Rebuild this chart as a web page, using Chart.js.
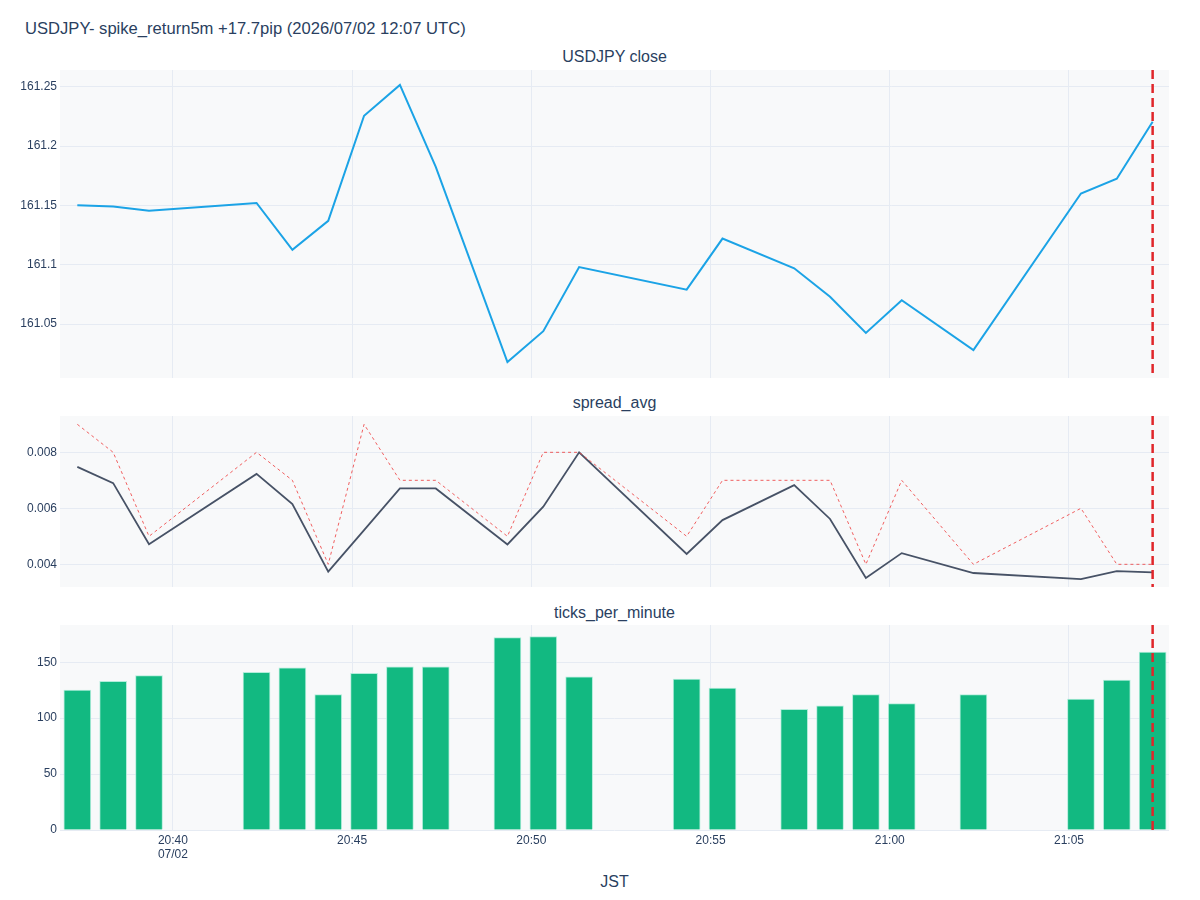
<!DOCTYPE html>
<html>
<head>
<meta charset="utf-8">
<script src="https://cdn.jsdelivr.net/npm/chart.js@4"></script>
<style>
  body { margin: 0; background: #fff; width: 1200px; height: 900px; position: relative; overflow: hidden; font-family: "Liberation Sans", Arial, sans-serif; color: #2a3f5f; }
  .txt { position: absolute; white-space: nowrap; line-height: 20px; }
  .sub { left: 60px; width: 1109px; text-align: center; font-size: 16px; }
  canvas { position: absolute; left: 0; }
</style>
</head>
<body>
<div class="txt" style="left:25px; top:19px; font-size:16.6px;">USDJPY- spike_return5m +17.7pip (2026/07/02 12:07 UTC)</div>
<div class="txt sub" style="top:47px;">USDJPY close</div>
<div class="txt sub" style="top:393px;">spread_avg</div>
<div class="txt sub" style="top:603px;">ticks_per_minute</div>
<div class="txt sub" style="top:872px;">JST</div>

<canvas id="close-chart" width="1200" height="308" style="top:70px"></canvas>
<canvas id="spread-chart" width="1200" height="171" style="top:416px"></canvas>
<canvas id="ticks-chart" width="1200" height="265" style="top:625px"></canvas>

<script>
// bar timestamps (JST, each at hh:mm:20)
const times = ["20:37", "20:38", "20:39", "20:42", "20:43", "20:44", "20:45", "20:46", "20:47", "20:49", "20:50",
  "20:51", "20:54", "20:55", "20:57", "20:58", "20:59", "21:00", "21:02", "21:05", "21:06", "21:07"];
const stampSec = 20;

const closePrice = [161.150, 161.149, 161.1455, 161.152, 161.1125, 161.137, 161.2255, 161.2515, 161.1825, 161.018, 161.044,
  161.098, 161.079, 161.122, 161.097, 161.073, 161.0425, 161.070, 161.028, 161.160, 161.1725, 161.2205];
const spreadAvg = [0.00748, 0.0069, 0.00472, 0.00723, 0.00615, 0.00374, 0.00522, 0.00671, 0.00671, 0.00471, 0.00606,
  0.0080, 0.00437, 0.00558, 0.00683, 0.00562, 0.00351, 0.0044, 0.00369, 0.00347, 0.00376, 0.00371];
const spreadMax = [0.009, 0.008, 0.005, 0.008, 0.007, 0.004, 0.009, 0.007, 0.007, 0.005, 0.008,
  0.008, 0.005, 0.007, 0.007, 0.007, 0.004, 0.007, 0.004, 0.006, 0.004, 0.004];
const ticksPerMinute = [125, 133, 138, 141, 145, 121, 140, 146, 146, 172, 173,
  137, 135, 127, 108, 111, 121, 113, 121, 117, 134, 159];

const xTickLabels = ["20:40", "20:45", "20:50", "20:55", "21:00", "21:05"];
const closeTicks = [161.05, 161.1, 161.15, 161.2, 161.25];
const spreadTicks = [0.004, 0.006, 0.008];
const countTicks = [0, 50, 100, 150];

const spikeTime = "21:07"; // red marker

// minutes after 20:00
function toMin(t, sec) {
  const [h, m] = t.split(":").map(Number);
  return (h - 20) * 60 + m + (sec || 0) / 60;
}
const xs = times.map(t => toMin(t, stampSec));
const spikeX = toMin(spikeTime, stampSec);

const FONT = "'Liberation Sans', Arial, sans-serif";
const TXT = "#2a3f5f";
const GRID = "#e6ebf3";
const BG = "#f8f9fa";
const X_MIN = 36.85, X_MAX = 67.79;
const AXIS_W = 60;
const RIGHT_PAD = 1200 - 1169;

const bgAndMarker = {
  id: "bgAndMarker",
  beforeDraw(chart) {
    const { ctx, chartArea: a } = chart;
    ctx.save();
    ctx.fillStyle = BG;
    ctx.fillRect(a.left, a.top, a.right - a.left, a.bottom - a.top);
    ctx.restore();
  },
  afterDatasetsDraw(chart) {
    const { ctx, chartArea: a, scales } = chart;
    const px = scales.x.getPixelForValue(spikeX);
    ctx.save();
    ctx.strokeStyle = "#e0262a";
    ctx.lineWidth = 2.5;
    ctx.setLineDash([9, 5]);
    ctx.beginPath();
    ctx.moveTo(px, a.top);
    ctx.lineTo(px, a.bottom);
    ctx.stroke();
    ctx.restore();
  },
};

function xScale(showLabels) {
  return {
    type: "linear",
    min: X_MIN,
    max: X_MAX,
    offset: false,
    afterBuildTicks: (s) => { s.ticks = xTickLabels.map(t => ({ value: toMin(t, 0) })); },
    afterFit: (s) => {
      s.height = showLabels ? 60 : 0;
      s.paddingLeft = 0;
      s.paddingRight = 0;
    },
    grid: { color: GRID, drawTicks: false, offset: false },
    border: { display: false },
    ticks: {
      display: showLabels,
      padding: 3,
      color: TXT,
      font: { family: FONT, size: 12 },
      maxRotation: 0,
      callback: (v) => {
        const lbl = xTickLabels.find(t => toMin(t, 0) === v);
        return v === toMin("20:40", 0) ? [lbl, "07/02"] : lbl;
      },
    },
  };
}

function yScale(min, max, tickVals, fmt) {
  return {
    min: min,
    max: max,
    afterBuildTicks: (s) => { s.ticks = tickVals.map(v => ({ value: v })); },
    afterFit: (s) => {
      s.width = AXIS_W;
      s.paddingTop = 0;
      s.paddingBottom = 0;
    },
    grid: { color: GRID, drawTicks: false },
    border: { display: false },
    ticks: { padding: 3, color: TXT, font: { family: FONT, size: 12 }, callback: fmt },
  };
}

const baseOpts = {
  responsive: false,
  animation: false,
  layout: { autoPadding: false, padding: { left: 0, right: RIGHT_PAD, top: 0, bottom: 0 } },
  plugins: { legend: { display: false }, tooltip: { enabled: false } },
};

new Chart(document.getElementById("close-chart"), {
  type: "line",
  data: {
    datasets: [{
      data: xs.map((x, i) => ({ x: x, y: closePrice[i] })),
      borderColor: "#1ba3e6",
      borderWidth: 2,
      pointRadius: 0,
      tension: 0,
    }],
  },
  options: {
    ...baseOpts,
    scales: {
      x: xScale(false),
      y: yScale(161.0045, 161.2641, closeTicks, (v) => String(Number(v.toFixed(2)))),
    },
  },
  plugins: [bgAndMarker],
});

new Chart(document.getElementById("spread-chart"), {
  type: "line",
  data: {
    datasets: [
      {
        data: xs.map((x, i) => ({ x: x, y: spreadMax[i] })),
        borderColor: "rgba(239,68,68,0.85)",
        borderWidth: 1,
        borderDash: [3, 3],
        pointRadius: 0,
        tension: 0,
      },
      {
        data: xs.map((x, i) => ({ x: x, y: spreadAvg[i] })),
        borderColor: "#475266",
        borderWidth: 1.8,
        pointRadius: 0,
        tension: 0,
      },
    ],
  },
  options: {
    ...baseOpts,
    scales: {
      x: xScale(false),
      y: yScale(0.00319, 0.009297, spreadTicks, (v) => v.toFixed(3)),
    },
  },
  plugins: [bgAndMarker],
});

new Chart(document.getElementById("ticks-chart"), {
  type: "bar",
  data: {
    datasets: [{
      data: xs.map((x, i) => ({ x: x, y: ticksPerMinute[i] })),
      backgroundColor: "#12b981",
      borderColor: "rgba(170,235,215,0.9)",
      borderWidth: 1,
      barThickness: 27,
    }],
  },
  options: {
    ...baseOpts,
    scales: {
      x: xScale(true),
      y: yScale(0, 183.3, countTicks, (v) => String(v)),
    },
  },
  plugins: [bgAndMarker],
});
</script>
</body>
</html>
